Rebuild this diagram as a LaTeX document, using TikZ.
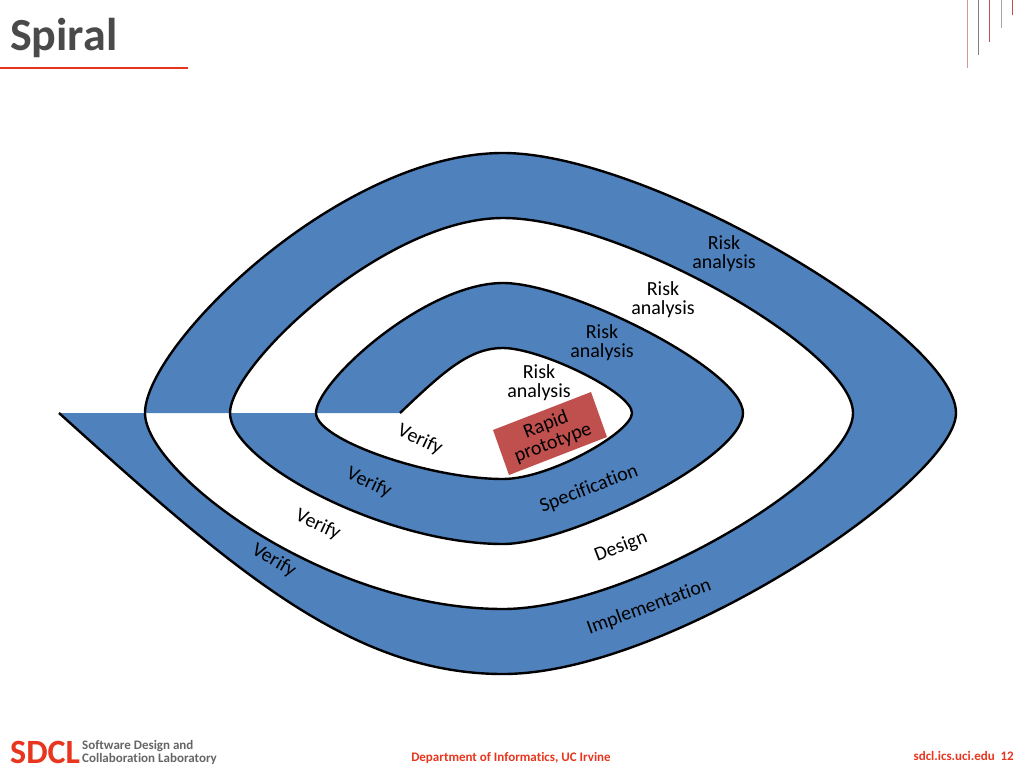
\documentclass[tikz,border=0pt]{standalone}
\usepackage{fontspec}
\setmainfont[Ligatures=CommonOff]{Carlito}
\usepackage{tikz}
\definecolor{bandblue}{HTML}{4F81BD}
\definecolor{protored}{HTML}{C0504D}
\definecolor{sdclred}{HTML}{E8351E}
\definecolor{titlegray}{HTML}{4A4A4A}
% one turn of the spiral, from the left to the next left
\newcommand{\turnA}{.. controls (230,567) and (350,674) .. (503,674)
  .. controls (670,674) and (956,480) .. (956,413)
  .. controls (956,335) and (650,153) .. (503,153)
  .. controls (340,153) and (145,345) .. (145,413)}
\newcommand{\turnB}{.. controls (145,472) and (325,609) .. (503,609)
  .. controls (630,609) and (853,475) .. (853,413)
  .. controls (853,350) and (620,218) .. (503,218)
  .. controls (385,218) and (230,365) .. (230,413)}
\newcommand{\turnC}{.. controls (230,462) and (385,544) .. (503,544)
  .. controls (570,544) and (743,458) .. (743,413)
  .. controls (743,370) and (570,283) .. (503,283)
  .. controls (425,283) and (316,382) .. (316,413)}
\newcommand{\turnD}{.. controls (316,440) and (430,479) .. (503,479)
  .. controls (550,479) and (632,432) .. (632,413)
  .. controls (632,392) and (540,348) .. (503,348)
  .. controls (470,348) and (445,370) .. (400,413)}
\tikzset{
  spiralline/.style={draw=black,line width=2.4pt,line join=round},
  label/.style={font=\fontsize{20}{19.5}\selectfont,align=center,inner sep=0pt},
  foot/.style={font=\fontsize{13}{13}\selectfont\bfseries,inner sep=0pt},
}
\begin{document}
\begin{tikzpicture}[x=1pt,y=-1pt]
\useasboundingbox (0,0) rectangle (1024,768);

\fill[bandblue,even odd rule] (59,413) \turnA \turnB -- cycle;
\fill[bandblue,even odd rule] (230,413) \turnC \turnD -- cycle;
\draw[spiralline] (59,413) \turnA \turnB \turnC \turnD;

\fill[protored] (493,430) -- (591,392) -- (607,437) -- (509,475) -- cycle;

\node[label] (riskA) at (724,253.5) {Risk\\analysis};
\node[label] (riskB) at (663,299.5) {Risk\\analysis};
\node[label] (riskC) at (602,342.5) {Risk\\analysis};
\node[label] (riskD) at (539,382.5) {Risk\\analysis};
\node[label,rotate=21] (proto) at (549.5,434) {Rapid\\prototype};
\node[label,rotate=-25] (verifyA) at (420,440) {Verify};
\node[label,rotate=-25] (verifyB) at (369,483) {Verify};
\node[label,rotate=-25] (verifyC) at (318,525) {Verify};
\node[label,rotate=-30] (verifyD) at (274,561) {Verify};
\node[label,rotate=21] (spec) at (589,489) {Specification};
\node[label,rotate=21] (design) at (621,547) {Design};
\node[label,rotate=20] (impl) at (649,607) {Implementation};

% title and corner
\node[font=\fontsize{46}{48}\selectfont\bfseries,text=titlegray,anchor=west,inner sep=0pt] (title) at (10,38) {Spiral};
\draw[sdclred,line width=1.5pt] (0,68) -- (188,68);
\draw[protored!60,line width=1pt] (967,0) -- (967,68);
\draw[gray,line width=1pt] (978,0) -- (978,55);
\draw[protored,line width=1pt] (989,0) -- (989,42);
\draw[gray!70,line width=1pt] (1001,0) -- (1001,28);
\draw[protored,line width=1pt] (1012,0) -- (1012,15);

% footer
\node[font=\fontsize{34}{36}\selectfont\bfseries,text=sdclred,anchor=west,inner sep=0pt] (sdcl) at (10,752) {SDCL};
\node[foot,text=titlegray!85,anchor=west,align=left] (lab) at (82,752) {Software Design and\\Collaboration Laboratory};
\node[foot,text=sdclred,anchor=center] (dept) at (511,758) {Department of Informatics, UC Irvine};
\node[foot,text=sdclred,anchor=east] (page) at (1014,756) {sdcl.ics.uci.edu\ \ 12};
\end{tikzpicture}
\end{document}
